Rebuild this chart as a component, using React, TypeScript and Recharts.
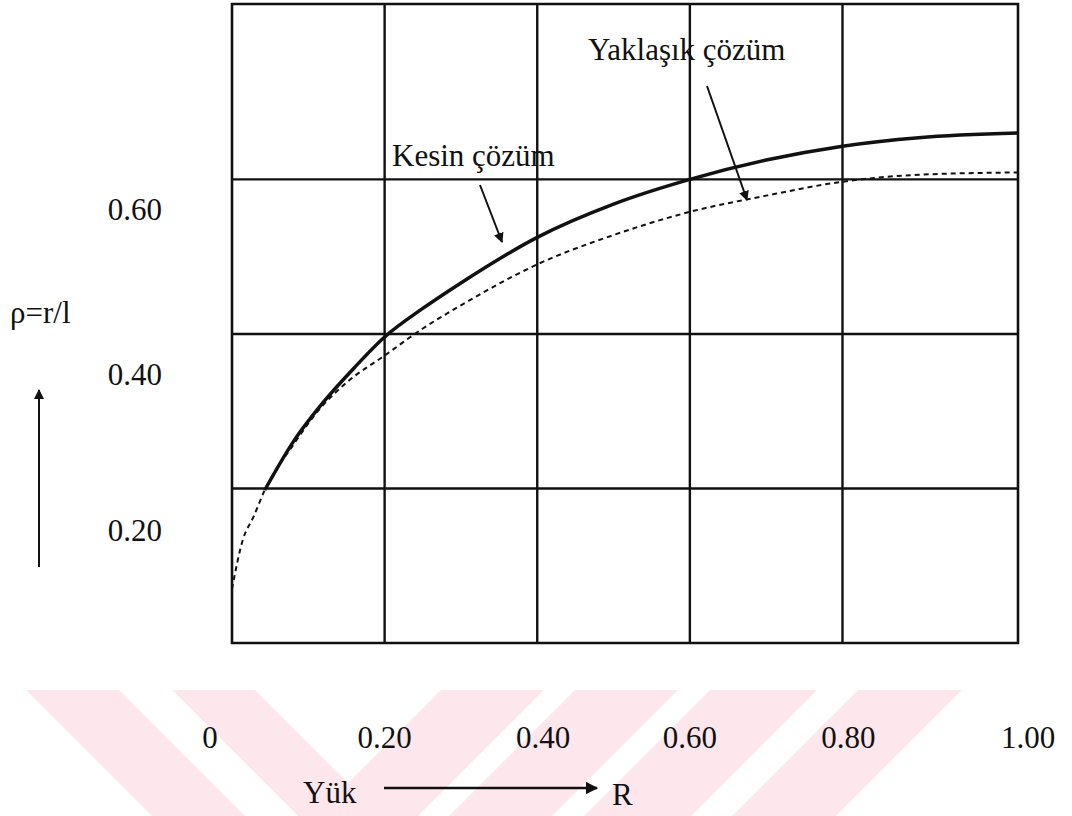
import React from "react";
import { LineChart, Line, XAxis, YAxis, ReferenceLine, ReferenceArea } from "recharts";

// Yük R (x) and ρ = r/l (y)
const kesinR = [0.043, 0.08, 0.12, 0.16, 0.2, 0.25, 0.3, 0.4, 0.5, 0.6, 0.7, 0.8, 0.9, 1.03];
const kesinRho = [0.198, 0.26, 0.312, 0.356, 0.396, 0.433, 0.466, 0.525, 0.568, 0.6, 0.625, 0.643, 0.654, 0.66];

const yaklasikR = [0, 0.014, 0.028, 0.043, 0.08, 0.115, 0.15, 0.2, 0.25, 0.3, 0.4, 0.5, 0.6, 0.7, 0.8, 0.9, 1.03];
const yaklasikRho = [0.07, 0.133, 0.163, 0.198, 0.256, 0.303, 0.337, 0.372, 0.407, 0.437, 0.49, 0.528, 0.558, 0.579, 0.597, 0.606, 0.609];

const gridR = [0.2, 0.4, 0.6, 0.8];
const gridRho = [0.2, 0.4, 0.6];

const xTicks = [0, 0.2, 0.4, 0.6, 0.8, 1.0];
const xTickLabels = ["0", "0.20", "0.40", "0.60", "0.80", "1.00"];
const yTicks = [0.2, 0.4, 0.6];
const yTickLabels = ["0.20", "0.40", "0.60"];

const R_MAX = 1.03;
const RHO_MAX = 0.827;

const kesinData = kesinR.map((r, i) => ({ r, rho: kesinRho[i] }));
const yaklasikData = yaklasikR.map((r, i) => ({ r, rho: yaklasikRho[i] }));

const FONT = "'Liberation Serif', 'Times New Roman', 'DejaVu Serif', serif";
const INK = "#111";
const textStyle = { fontFamily: FONT, fontSize: 31 };

// the scanned labels sit a little off their grid lines
const xNudge = [-22, 0, 6, 0, 6, 33];
const yNudge = [53, 51, 41];

function XTick(props: any) {
  const { x, y, index } = props;
  return (
    <text x={x + (xNudge[index] ?? 0)} y={y + 97} textAnchor="middle" style={textStyle} fill={INK}>
      {xTickLabels[index]}
    </text>
  );
}

function YTick(props: any) {
  const { x, y, index } = props;
  return (
    <text x={x - 62} y={y + (yNudge[index] ?? 0)} textAnchor="end" style={textStyle} fill={INK}>
      {yTickLabels[index]}
    </text>
  );
}

function Watermark() {
  const pink = "#fde7ec";
  return (
    <svg width={1072} height={816} style={{ position: "absolute", left: 0, top: 0 }}>
      <polygon points="26,690 119,690 245,816 152,816" fill={pink} />
      <polygon points="172,690 255,690 381,816 298,816" fill={pink} />
      <polygon points="441,690 544,690 418,816 315,816" fill={pink} />
      <polygon points="575,690 678,690 552,816 449,816" fill={pink} />
      <polygon points="710,690 817,690 691,816 584,816" fill={pink} />
      <polygon points="858,690 962,690 836,816 732,816" fill={pink} />
    </svg>
  );
}

function Annotations() {
  return (
    <svg width={1072} height={816} style={{ position: "absolute", left: 0, top: 0, pointerEvents: "none" }}>
      <defs>
        <marker id="head" viewBox="0 0 10 10" refX="9" refY="5" markerWidth="5" markerHeight="5" orient="auto">
          <path d="M0,0 L10,5 L0,10 z" fill={INK} />
        </marker>
      </defs>
      <g fill={INK}>
        <text x={392} y={166} style={textStyle}>Kesin çözüm</text>
        <text x={588} y={60} style={textStyle}>Yaklaşık çözüm</text>
        <text x={10} y={323} style={textStyle}>ρ=r/l</text>
        <text x={303} y={803} style={textStyle}>Yük</text>
        <text x={612} y={805} style={textStyle}>R</text>
      </g>
      <line x1={480} y1={185} x2={502} y2={242} stroke={INK} strokeWidth={2} markerEnd="url(#head)" />
      <line x1={707} y1={86} x2={747} y2={200} stroke={INK} strokeWidth={2} markerEnd="url(#head)" />
      <line x1={39} y1={567} x2={39} y2={390} stroke={INK} strokeWidth={2} markerEnd="url(#head)" />
      <line x1={384} y1={788} x2={597} y2={788} stroke={INK} strokeWidth={2.5} markerEnd="url(#head)" />
    </svg>
  );
}

export default function App() {
  return (
    <div style={{ position: "absolute", left: 0, top: 0, width: 1072, height: 816, background: "#fff", fontFamily: FONT }}>
      <Watermark />
      <div style={{ position: "absolute", left: 0, top: 0 }}>
        <LineChart width={1072} height={816} margin={{ top: 4, right: 54, bottom: 133, left: 162 }}>
          <XAxis
            type="number"
            dataKey="r"
            domain={[0, R_MAX]}
            ticks={xTicks}
            interval={0}
            allowDataOverflow
            axisLine={false}
            tickLine={false}
            height={40}
            tick={<XTick />}
          />
          <YAxis
            type="number"
            dataKey="rho"
            domain={[0, RHO_MAX]}
            ticks={yTicks}
            interval={0}
            allowDataOverflow
            axisLine={false}
            tickLine={false}
            width={70}
            tick={<YTick />}
          />
          {gridR.map((r) => (
            <ReferenceLine key={"gx" + r} x={r} stroke={INK} strokeWidth={2.4} />
          ))}
          {gridRho.map((v) => (
            <ReferenceLine key={"gy" + v} y={v} stroke={INK} strokeWidth={2.4} />
          ))}
          <ReferenceArea x1={0} x2={R_MAX} y1={0} y2={RHO_MAX} fill="none" stroke={INK} strokeWidth={2.6} />
          <Line
            data={yaklasikData}
            dataKey="rho"
            type="monotone"
            stroke={INK}
            strokeWidth={2}
            strokeDasharray="5 4"
            dot={false}
            isAnimationActive={false}
          />
          <Line
            data={kesinData}
            dataKey="rho"
            type="monotone"
            stroke={INK}
            strokeWidth={3.5}
            dot={false}
            isAnimationActive={false}
          />
        </LineChart>
      </div>
      <Annotations />
    </div>
  );
}
